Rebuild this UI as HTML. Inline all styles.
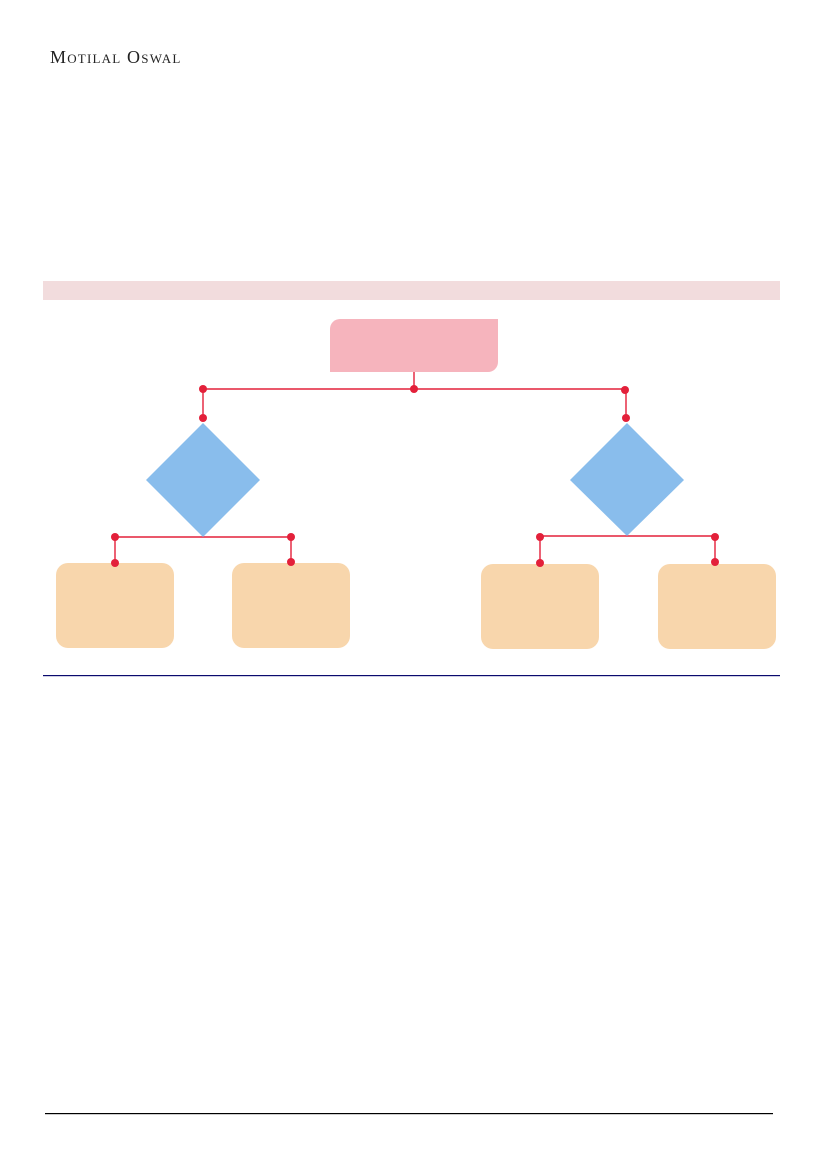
<!DOCTYPE html>
<html><head><meta charset="utf-8"><style>
html,body{margin:0;padding:0;background:#fff;}
body{width:827px;height:1169px;position:relative;overflow:hidden;}
.logo{position:absolute;left:50px;top:48px;font-family:"Liberation Serif",serif;font-size:18px;color:#222;letter-spacing:1.2px;line-height:1;}
.logo small{font-size:13px;}
</style></head><body>
<div class="logo">M<small>OTILAL</small> O<small>SWAL</small></div>
<svg width="827" height="1169" style="position:absolute;left:0;top:0">
<rect x="43" y="281" width="737" height="19" fill="#f2dcdd"/>
<path d="M340 319 H498 V362 A10 10 0 0 1 488 372 H330 V329 A10 10 0 0 1 340 319Z" fill="#f6b4bd"/>
<g stroke="#e3203a" stroke-width="1.4" fill="none" stroke-opacity="1">
<path d="M414 372 V389 M203 389 H626 M203 389 V418 M626 389 V418"/>
<path d="M115 537 H291 M115 537 V563 M291 537 V562"/>
<path d="M540 536 H715 M540 536 V563 M715 536 V562"/>
</g>
<polygon points="203,423 260,480 203,537 146,480" fill="#89bdec"/>
<polygon points="627,423 684,480 627,536 570,480" fill="#89bdec"/>
<rect x="56" y="563" width="118" height="85" rx="12" fill="#f8d6ac"/>
<rect x="232" y="563" width="118" height="85" rx="12" fill="#f8d6ac"/>
<rect x="481" y="564" width="118" height="85" rx="12" fill="#f8d6ac"/>
<rect x="658" y="564" width="118" height="85" rx="12" fill="#f8d6ac"/>
<g fill="#e3203a">
<circle cx="414" cy="389" r="4"/><circle cx="203" cy="389" r="4"/><circle cx="203" cy="418" r="4"/>
<circle cx="625" cy="390" r="4"/><circle cx="626" cy="418" r="4"/>
<circle cx="115" cy="537" r="4"/><circle cx="115" cy="563" r="4"/><circle cx="291" cy="537" r="4"/><circle cx="291" cy="562" r="4"/>
<circle cx="540" cy="537" r="4"/><circle cx="540" cy="563" r="4"/><circle cx="715" cy="537" r="4"/><circle cx="715" cy="562" r="4"/>
</g>
<rect x="43" y="675" width="737" height="1.2" fill="#0a0a6e"/>
<rect x="45" y="1113" width="728" height="1.2" fill="#000"/>
</svg>
</body></html>
